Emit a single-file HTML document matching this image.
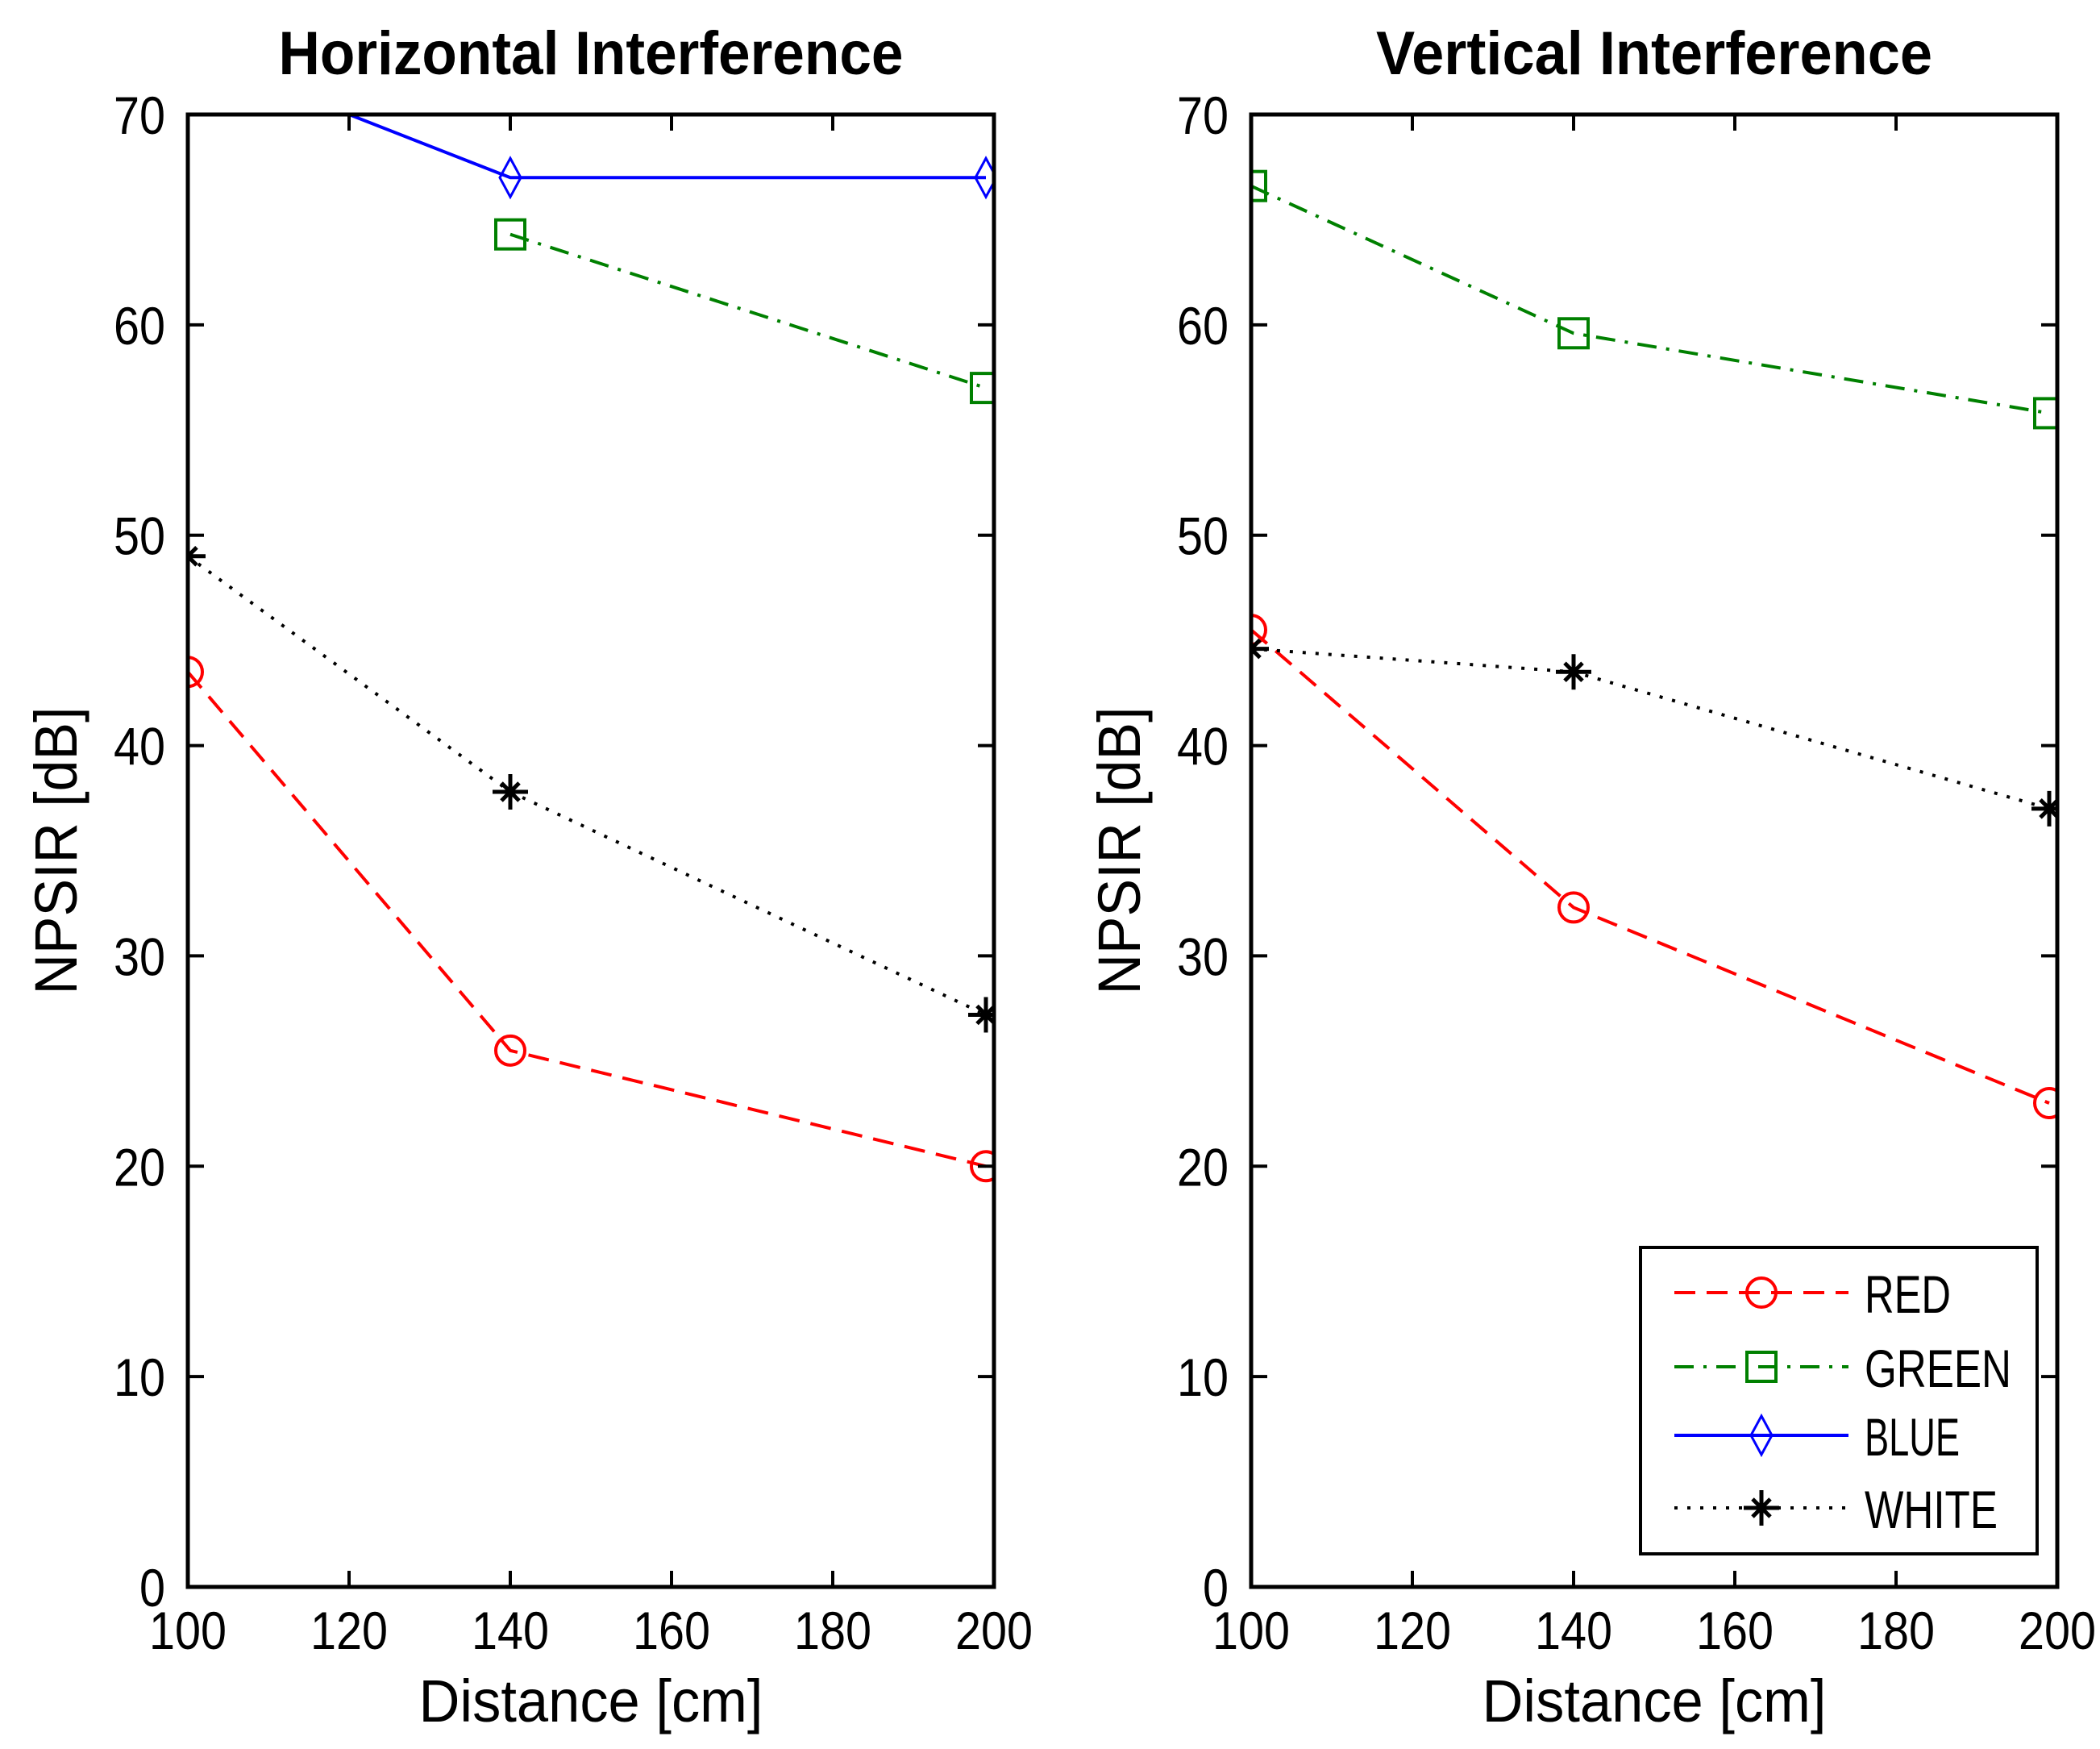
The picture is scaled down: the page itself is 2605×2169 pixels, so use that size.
<!DOCTYPE html>
<html><head><meta charset="utf-8"><style>
html,body{margin:0;padding:0;background:#fff}
svg{display:block}
text{font-family:"Liberation Sans",sans-serif;fill:#000}
</style></head><body>
<svg id="fig" width="2605" height="2169" viewBox="0 0 2605 2169" xmlns="http://www.w3.org/2000/svg">
<defs>
<clipPath id="clipL"><rect x="233" y="142" width="1000" height="1826"/></clipPath>
<clipPath id="clipR"><rect x="1552" y="142" width="1000" height="1826"/></clipPath>
</defs>
</svg>
<script>
// ---- data ----
const xTicks = [100, 120, 140, 160, 180, 200];
const yTicks = [0, 10, 20, 30, 40, 50, 60, 70];
const seriesNames = ["RED", "GREEN", "BLUE", "WHITE"];
const horizX = [100, 140, 199];
const horizRed = [43.5, 25.5, 20.0];
const horizGreen = [null, 64.3, 57.0];
const horizBlue = [73.0, 67.0, 67.0];
const horizWhite = [49.0, 37.8, 27.2];
const vertX = [100, 140, 199];
const vertRed = [45.5, 32.3, 23.0];
const vertGreen = [66.6, 59.6, 55.8];
const vertBlue = [null, null, null];
const vertWhite = [44.6, 43.5, 37.0];

const NS = "http://www.w3.org/2000/svg";
const svg = document.getElementById("fig");
function mk(tag, attrs, parent) {
  const e = document.createElementNS(NS, tag);
  for (const k in attrs) e.setAttribute(k, attrs[k]);
  (parent || svg).appendChild(e);
  return e;
}
function txt(parent, str, x, y, size, anchor, len, extra) {
  const a = Object.assign({x, y, "text-anchor": anchor, "font-size": size, textLength: len, lengthAdjust: "spacingAndGlyphs"}, extra || {});
  const t = mk("text", a, parent);
  t.textContent = str;
  return t;
}
const styles = {
  RED: {color: "#ff0000", dash: "26 14", marker: "circle"},
  GREEN: {color: "#008000", dash: "24 12 4 12", marker: "square"},
  BLUE: {color: "#0000ff", dash: "", marker: "diamond"},
  WHITE: {color: "#000000", dash: "4 12", marker: "star"}
};
function marker(g, type, cx, cy, color) {
  let m;
  if (type === "circle") m = mk("circle", {cx, cy, r: 18, fill: "none", stroke: color, "stroke-width": 4}, g);
  else if (type === "square") m = mk("rect", {x: cx - 18, y: cy - 18, width: 36, height: 36, fill: "none", stroke: color, "stroke-width": 4}, g);
  else if (type === "diamond") m = mk("polygon", {points: `${cx},${cy-24} ${cx+13},${cy} ${cx},${cy+24} ${cx-13},${cy}`, fill: "none", stroke: color, "stroke-width": 3}, g);
  else m = mk("path", {d: `M${cx-22},${cy}H${cx+22}M${cx},${cy-22}V${cy+22}M${cx-11},${cy-11}L${cx+11},${cy+11}M${cx-11},${cy+11}L${cx+11},${cy-11}`, stroke: color, "stroke-width": 5}, g);
  return m;
}
function panel(id, x0, title, xs, data, clip, showLegend) {
  const W = 1000, y0 = 142, H = 1826;
  const sx = v => x0 + (v - 100) / 100 * W;
  const sy = v => y0 + H - v / 70 * H;
  const g = mk("g", {});
  
  
  const t = txt(g, title, x0 + W / 2, 92, 76, "middle", title.length > 21 ? 775 : 690, {"font-weight": "bold"});
  
  
  const sg = mk("g", {"clip-path": `url(#${clip})`}, g);
  seriesNames.forEach((name, si) => {
    const vals = data[si];
    const st = styles[name];
    const pts = [];
    xs.forEach((x, i) => { if (vals[i] !== null) pts.push([sx(x), sy(vals[i])]); });
    if (!pts.length) return;
    const line = mk("polyline", {points: pts.map(p => p.join(",")).join(" "), fill: "none", stroke: st.color, "stroke-width": 4, "stroke-dasharray": st.dash}, sg);
    
    
    pts.forEach(p => {
      const m = marker(sg, st.marker, p[0], p[1], st.color);
      
      
    });
  });
  const box = mk("rect", {x: x0, y: y0, width: W, height: H, fill: "none", stroke: "#000", "stroke-width": 5}, g);
  
  
  xTicks.forEach(v => {
    const x = sx(v);
    mk("path", {d: `M${x},${y0+H}v-20M${x},${y0}v20`, stroke: "#000", "stroke-width": 4}, g);
    const tl = txt(g, String(v), x, 2045, 66, "middle", String(v).length * 32);
    
    
  });
  yTicks.forEach(v => {
    const y = sy(v);
    mk("path", {d: `M${x0},${y}h20M${x0+W},${y}h-20`, stroke: "#000", "stroke-width": 4}, g);
    const tl = txt(g, String(v), x0 - 28, y + 24, 66, "end", String(v).length * 32);
    
    
  });
  const xl = txt(g, "Distance [cm]", x0 + W / 2, 2135, 74, "middle", 427);
  
  
  const yl = txt(g, "NPSIR [dB]", 0, 0, 74, "middle", 357, {transform: `translate(${x0 - 138},${y0 + H / 2}) rotate(-90)`});
  
  
  if (showLegend) {
    const lg = mk("g", {}, g);
    
    
    mk("rect", {x: 2035, y: 1547, width: 492, height: 380, fill: "#fff", stroke: "#000", "stroke-width": 4}, lg);
    const ys = [1603, 1695, 1780, 1870];
    const lens = [107, 182, 118, 165];
    seriesNames.forEach((name, i) => {
      const st = styles[name];
      const e = mk("g", {}, lg);
      
      
      mk("line", {x1: 2077, y1: ys[i], x2: 2293, y2: ys[i], stroke: st.color, "stroke-width": 4, "stroke-dasharray": st.dash}, e);
      marker(e, st.marker, 2185, ys[i], st.color);
      txt(e, name, 2313, ys[i] + 25, 66, "start", lens[i]);
    });
  }
}
panel("horizontal", 233, "Horizontal Interference", horizX, [horizRed, horizGreen, horizBlue, horizWhite], "clipL", false);
panel("vertical", 1552, "Vertical Interference", vertX, [vertRed, vertGreen, vertBlue, vertWhite], "clipR", true);
</script>
</body></html>
